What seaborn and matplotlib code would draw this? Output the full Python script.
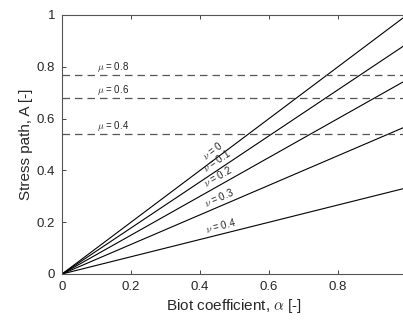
import numpy as np
import pandas as pd
import matplotlib
matplotlib.use("Agg")
import matplotlib.pyplot as plt
import seaborn as sns

# Poisson's ratio curves: stress path A at alpha = 0 and alpha = 1
nu_values = [0.0, 0.1, 0.2, 0.3, 0.4]
alpha_ends = [0.0, 1.0]
A_at_alpha1 = [1.0, 0.889, 0.75, 0.571, 0.333]

# Friction coefficient limits (horizontal dashed lines)
mu_values = [0.4, 0.6, 0.8]
A_mu = [0.542, 0.680, 0.769]

x_ticks = [0, 0.2, 0.4, 0.6, 0.8]
y_ticks = [0, 0.2, 0.4, 0.6, 0.8, 1]

sns.set_theme(style="ticks")
plt.rcParams["font.family"] = ["Liberation Sans", "DejaVu Sans"]
plt.rcParams["mathtext.fontset"] = "cm"

rows = []
for nu, a1 in zip(nu_values, A_at_alpha1):
    for al in alpha_ends:
        rows.append({"alpha": al, "A": a1 * al, "nu": nu})
df = pd.DataFrame(rows)

fig = plt.figure(figsize=(4.03, 3.25), dpi=100)
ax = fig.add_axes([0.154, 0.157, 0.856, 0.797])

sns.lineplot(data=df, x="alpha", y="A", units="nu", estimator=None,
             color="black", linewidth=0.8, ax=ax, legend=False)

for mu, a in zip(mu_values, A_mu):
    ax.axhline(a, color="#555555", linestyle=(0, (6, 4)), linewidth=0.9)
    ax.text(0.1, a + 0.004, rf"$\mu$ = {mu:.1f}", fontsize=7,
            ha="left", va="bottom", color="#222222")

ax.set_xlim(0, 1)
ax.set_ylim(0, 1)

label_alpha = 0.42
for nu, a1 in zip(nu_values, A_at_alpha1):
    ang = np.degrees(np.arctan(a1))
    lbl = rf"$\nu$ = {nu:g}"
    ax.text(label_alpha, a1 * label_alpha + 0.012, lbl, fontsize=7,
            rotation=ang, transform_rotates_text=True,
            rotation_mode="anchor", ha="left", va="bottom", color="#222222")

ax.set_xticks(x_ticks)
ax.set_xticklabels([f"{t:g}" for t in x_ticks])
ax.set_yticks(y_ticks)
ax.set_yticklabels([f"{t:g}" for t in y_ticks])
ax.tick_params(direction="in", length=3, width=0.6, labelsize=9.5,
               colors="#262626", top=True, right=True, pad=5)

for side in ["left", "bottom", "top", "right"]:
    ax.spines[side].set_visible(True)
    ax.spines[side].set_color("#555555")
    ax.spines[side].set_linewidth(0.8)

ax.set_xlabel(r"Biot coefficient, $\alpha$ [-]", fontsize=11, color="#262626", labelpad=3)
ax.set_ylabel("Stress path, A [-]", fontsize=11, color="#262626", labelpad=3)

fig.savefig("out.png", dpi=100)
